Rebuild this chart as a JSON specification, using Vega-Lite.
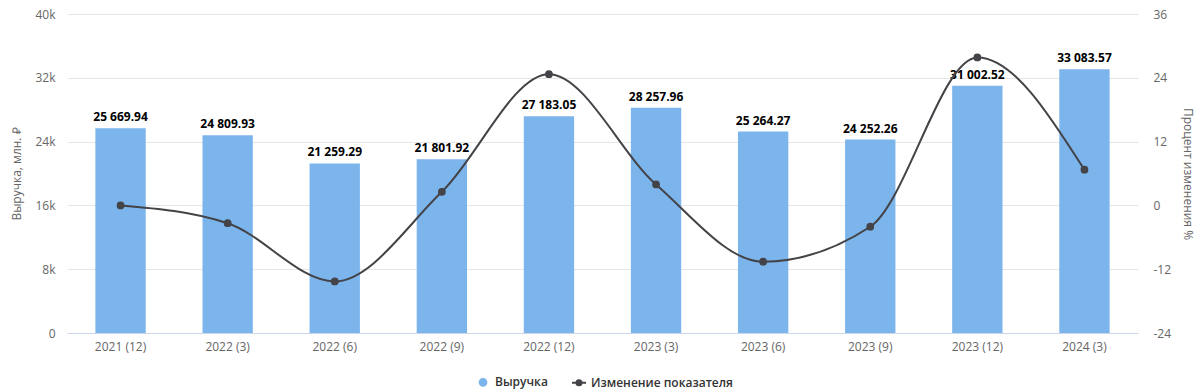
{
  "$schema": "https://vega.github.io/schema/vega-lite/v6.json",
  "width": 1071,
  "height": 319,
  "autosize": {"type": "none"},
  "padding": {"left": 67, "top": 14, "right": 62, "bottom": 59},
  "config": {
    "locale": {"number": {"decimal": ".", "thousands": " ", "grouping": [3], "currency": ["", ""], "minus": "-"}},
    "view": {"stroke": null},
    "font": "Open Sans",
    "axis": {"labelColor": "#666666", "labelFontSize": 12, "labelFont": "Open Sans", "titleColor": "#666666", "titleFontSize": 12, "titleFontWeight": "normal", "titleFont": "Open Sans", "gridColor": "#e6e6e6", "ticks": false},
    "legend": {"labelFont": "Open Sans", "labelFontSize": 12, "labelColor": "#333333", "labelFontWeight": 600}
  },
  "data": {
    "values": [
      {"period": "2021 (12)", "revenue": 25669.94, "change": 0},
      {"period": "2022 (3)", "revenue": 24809.93, "change": -3.35},
      {"period": "2022 (6)", "revenue": 21259.29, "change": -14.31},
      {"period": "2022 (9)", "revenue": 21801.92, "change": 2.55},
      {"period": "2022 (12)", "revenue": 27183.05, "change": 24.68},
      {"period": "2023 (3)", "revenue": 28257.96, "change": 3.95},
      {"period": "2023 (6)", "revenue": 25264.27, "change": -10.59},
      {"period": "2023 (9)", "revenue": 24252.26, "change": -4.01},
      {"period": "2023 (12)", "revenue": 31002.52, "change": 27.83},
      {"period": "2024 (3)", "revenue": 33083.57, "change": 6.71}
    ]
  },
  "encoding": {
    "x": {
      "field": "period", "type": "ordinal", "sort": null,
      "scale": {"paddingInner": 0.53, "paddingOuter": 0.265},
      "axis": {"title": null, "labelAngle": 0, "domainColor": "#ccd6eb", "labelPadding": 8, "grid": false}
    }
  },
  "layer": [
    {
      "layer": [
        {
          "mark": {"type": "bar"},
          "encoding": {
            "y": {
              "field": "revenue", "type": "quantitative",
              "scale": {"domain": [0, 40000], "nice": false},
              "axis": {"title": "Выручка, млн. ₽", "values": [0, 8000, 16000, 24000, 32000, 40000], "labelExpr": "datum.value === 0 ? '0' : format(datum.value / 1000, 'd') + 'k'", "domain": false, "labelPadding": 12, "titlePadding": 11}
            },
            "color": {
              "datum": "Выручка", "type": "nominal",
              "scale": {"domain": ["Выручка", "Изменение показателя"], "range": ["#7cb5ec", "#434348"]},
              "legend": {
                "title": null, "orient": "none", "legendX": 408, "legendY": 360, "direction": "horizontal", "columnPadding": 20, "symbolSize": 196,
                "encode": {
                  "symbols": {
                    "update": {
                      "shape": {"signal": "datum.value === 'Выручка' ? 'M-0.48,0A0.48,0.48,0,1,1,0.48,0A0.48,0.48,0,1,1,-0.48,0Z' : 'M-1,0L1,0M-0.36,0A0.36,0.36,0,1,1,0.36,0A0.36,0.36,0,1,1,-0.36,0Z'"},
                      "fill": {"signal": "scale('color', datum.value)"},
                      "stroke": {"signal": "datum.value === 'Выручка' ? 'transparent' : scale('color', datum.value)"},
                      "strokeWidth": {"value": 2},
                      "opacity": {"value": 1}
                    }
                  }
                }
              }
            }
          }
        },
        {
          "mark": {"type": "text", "baseline": "alphabetic", "dy": -7, "fontWeight": "bold", "fontSize": 12, "color": "#000000", "font": "Open Sans"},
          "encoding": {
            "y": {"field": "revenue", "type": "quantitative"},
            "text": {"field": "revenue", "type": "quantitative", "format": ",.2f"}
          }
        }
      ]
    },
    {
      "mark": {"type": "line", "interpolate": "monotone", "strokeWidth": 2, "point": {"filled": true, "size": 60}},
      "encoding": {
        "y": {
          "field": "change", "type": "quantitative",
          "scale": {"domain": [-24, 36], "nice": false},
          "axis": {"title": "Процент изменения %", "orient": "right", "values": [-24, -12, 0, 12, 24, 36], "grid": false, "domain": false, "labelPadding": 15, "titlePadding": 10}
        },
        "color": {"datum": "Изменение показателя", "type": "nominal"}
      }
    }
  ],
  "resolve": {"scale": {"y": "independent"}}
}
